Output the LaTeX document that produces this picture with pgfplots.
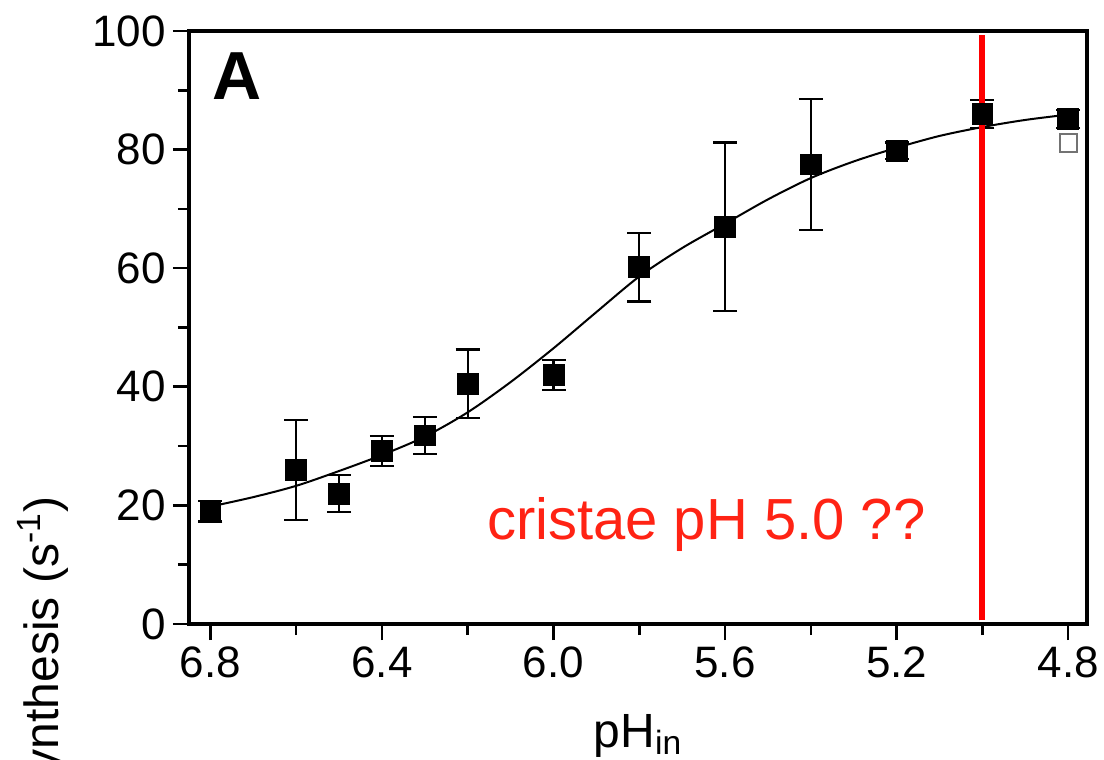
\documentclass[border=0pt]{standalone}
\usepackage{fontspec}
\setmainfont{Liberation Sans}
\usepackage{pgfplots}
\pgfplotsset{compat=1.18}
\definecolor{annred}{RGB}{255,35,20}
\begin{document}
\begin{tikzpicture}
\useasboundingbox (-94.5pt,-68pt) rectangle (457.5pt,312pt);
\clip (-94.5pt,-68pt) rectangle (457.5pt,312pt);
\begin{axis}[
  at={(0,0)}, anchor=south west,
  scale only axis, width=449pt, height=296.5pt,
  clip=false,
  x dir=reverse,
  xmin=4.756, xmax=6.85, ymin=0, ymax=100,
  xtick={6.8,6.4,6.0,5.6,5.2,4.8},
  minor xtick={6.6,6.2,5.8,5.4,5.0},
  ytick={0,20,40,60,80,100},
  minor ytick={10,30,50,70,90},
  tick align=outside,
  xtick pos=left, ytick pos=left,
  major tick length=8pt, minor tick length=5.5pt,
  every tick/.style={line width=1.3pt, black},
  axis line style={line width=1.6pt},
  xticklabel style={/pgf/number format/.cd, fixed, fixed zerofill, precision=1},
  ticklabel style={font=\fontsize{22}{22}\selectfont},
  /pgf/number format/assume math mode=true,
]
\addplot[smooth, black, line width=1pt] coordinates {
(6.8,19.8) (6.7,21.4) (6.6,23.3) (6.5,25.8) (6.4,28.5) (6.3,31.6) (6.2,35.7)
(6.1,40.8) (6.0,46.5) (5.9,52.6) (5.8,58.6) (5.7,63.4) (5.6,67.5) (5.5,71.6)
(5.4,75.2) (5.3,78.0) (5.2,80.3) (5.1,82.3) (5.0,83.8) (4.9,85.0) (4.8,85.9)
};
\addplot[only marks, mark=square*, mark size=4.3pt, mark options={draw=black!55, fill=white, line width=1pt}] coordinates {(4.8,81.1)};
\addplot[only marks, mark=square*, black, mark size=5.2pt,
  error bars/.cd, y dir=both, y explicit,
  error bar style={line width=1.1pt, black},
  error mark options={rotate=90, mark size=6pt, line width=1.1pt, black}]
  table[x=x, y=y, y error=e] {
x y e
6.8 19.0 1.7
6.6 26.0 8.4
6.5 22.0 3.1
6.4 29.2 2.5
6.3 31.8 3.1
6.2 40.5 5.8
6.0 42.0 2.5
5.8 60.2 5.8
5.6 67.0 14.2
5.4 77.5 11.0
5.2 79.8 1.4
5.0 86.0 2.3
4.8 85.2 1.5
};
\addplot[red, line width=3pt] coordinates {(5.0,0.6) (5.0,99.4)};
\node[anchor=base west, inner sep=0, font=\bfseries\fontsize{34}{34}\selectfont] at (axis cs:6.795,88.4) {A};
\node[anchor=base west, inner sep=0, text=annred, font=\fontsize{29}{29}\selectfont] at (axis cs:6.156,14.2) {cristae pH 5.0 ??};
\node[rotate=90, anchor=base east, inner sep=0, font=\fontsize{24}{24}\selectfont] at ([xshift=-65pt]rel axis cs:0,0.215) {ATP synthesis (s\textsuperscript{-1})};
\node[anchor=base, inner sep=0, font=\fontsize{24}{24}\selectfont] at ([yshift=-61.5pt]rel axis cs:0.5,0) {pH\textsubscript{in}};
\end{axis}
\end{tikzpicture}
\end{document}
